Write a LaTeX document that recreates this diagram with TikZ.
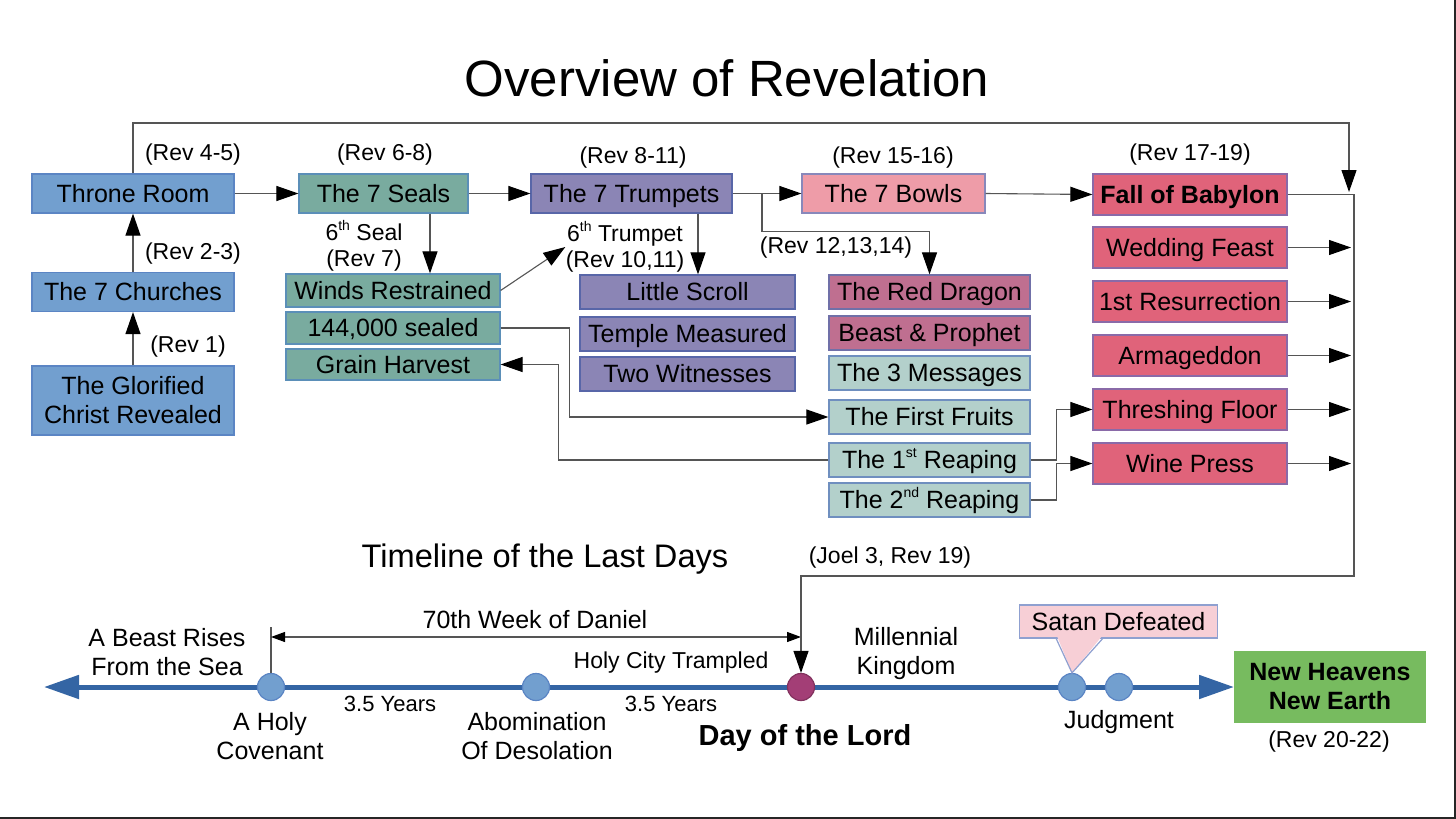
\documentclass[tikz,border=0pt]{standalone}
\usepackage{fontspec}
\setmainfont{Liberation Sans}
\usetikzlibrary{arrows.meta}
\definecolor{cBlue}{HTML}{729FCF}
\definecolor{bBlue}{HTML}{5B85C4}
\definecolor{cTeal}{HTML}{79AB9F}
\definecolor{bTeal}{HTML}{5B8FB8}
\definecolor{cPurp}{HTML}{8B85B5}
\definecolor{bPurp}{HTML}{5866A8}
\definecolor{cPink}{HTML}{EE9CA8}
\definecolor{bPink}{HTML}{8888BB}
\definecolor{cMauve}{HTML}{BF6F90}
\definecolor{bMauve}{HTML}{7070A8}
\definecolor{cLTeal}{HTML}{B3D0CB}
\definecolor{bLTeal}{HTML}{6F8FBF}
\definecolor{cRed}{HTML}{E0637A}
\definecolor{bRed}{HTML}{8A6AA8}
\definecolor{cSatan}{HTML}{F7CFD6}
\definecolor{bSatan}{HTML}{8FA0D0}
\definecolor{cGreen}{HTML}{77BB5F}
\definecolor{cAxis}{HTML}{3465A4}
\definecolor{cDot}{HTML}{A33E76}
\definecolor{cLine}{HTML}{555555}
\newcommand{\sups}[1]{\raisebox{0.45em}{\fontsize{7}{8}\selectfont #1}}
\tikzset{
  bx/.style={rectangle, inner sep=0pt, line width=0.6pt, align=center,
    font=\fontsize{12.5}{14.5}\selectfont},
  sl/.style={text height=9pt, text depth=0.4pt},
  bluebox/.style={bx, fill=cBlue, draw=bBlue, minimum width=101pt, minimum height=19.5pt},
  tealbox/.style={bx, sl, fill=cTeal, draw=bTeal, minimum width=107pt, minimum height=16.5pt},
  purpbox/.style={bx, sl, fill=cPurp, draw=bPurp, minimum width=107.5pt, minimum height=17pt},
  mauvebox/.style={bx, sl, fill=cMauve, draw=bMauve, minimum width=100.5pt, minimum height=17pt},
  ltealbox/.style={bx, sl, fill=cLTeal, draw=bLTeal, minimum width=100.5pt, minimum height=17pt},
  redbox/.style={bx, sl, fill=cRed, draw=bRed, minimum width=97pt, minimum height=20.5pt},
  lab/.style={inner sep=0pt, align=center, font=\fontsize{11.5}{13}\selectfont},
  tlab/.style={inner sep=0pt, align=center, font=\fontsize{12.5}{14.5}\selectfont},
  conn/.style={draw=cLine, line width=0.55pt},
  arr/.style={conn, -{Triangle[length=11pt,width=7.5pt,color=black]}},
  smallarr/.style={conn, {Triangle[length=7pt,width=5pt,color=black]}-{Triangle[length=7pt,width=5pt,color=black]}},
  axisline/.style={draw=cAxis, line width=2.5pt,
    {Triangle[length=17.5pt,width=11.5pt]}-{Triangle[length=17.5pt,width=11.5pt]}},
  dot/.style={circle, inner sep=0pt, minimum size=13.5pt, fill=cBlue, draw=bBlue, line width=0.6pt},
}
\begin{document}
\begin{tikzpicture}[x=0.5pt,y=-0.5pt]
\useasboundingbox (0,0) rectangle (1456,819);
\fill[white] (0,0) rectangle (1456,819);

% title
\node[inner sep=0pt, font=\fontsize{25.5}{30}\selectfont] (title) at (727,78) {Overview of Revelation};

% left column
\node[bluebox, sl] (throne) at (133,193.5) {Throne Room};
\node[bluebox, sl] (churches) at (133,292) {The 7 Churches};
\node[bluebox, minimum height=34.5pt] (christ) at (133,400.5) {The Glorified\\Christ Revealed};
\node[lab] (l45) at (193,155) {(Rev 4-5)};
\node[lab] (l23) at (193,254) {(Rev 2-3)};
\node[lab] (l1) at (188,347) {(Rev 1)};

% seals
\node[bx, sl, fill=cTeal, draw=bTeal, minimum width=84.5pt, minimum height=19.5pt] (seals) at (383.5,193.5) {The 7 Seals};
\node[lab] (l68) at (385,155) {(Rev 6-8)};
\node[lab] (s6) at (364,246) {6\sups{th} Seal\\(Rev 7)};
\node[tealbox] (winds) at (393,290.5) {Winds Restrained};
\node[tealbox, minimum height=16pt] (k144) at (393,328) {144,000 sealed};
\node[tealbox, minimum height=15.5pt] (grain) at (393,364.5) {Grain Harvest};

% trumpets
\node[bx, sl, fill=cPurp, draw=bPurp, minimum width=100.5pt, minimum height=19.5pt] (trumpets) at (631.5,193.5) {The 7 Trumpets};
\node[lab] (l811) at (633,158) {(Rev 8-11)};
\node[lab] (t6) at (625,247) {6\sups{th} Trumpet\\(Rev 10,11)};
\node[purpbox] (scroll) at (687.5,292) {Little Scroll};
\node[purpbox] (temple) at (687.5,334) {Temple Measured};
\node[purpbox] (witn) at (687.5,374) {Two Witnesses};

% bowls
\node[bx, sl, fill=cPink, draw=bPink, minimum width=91.5pt, minimum height=19.5pt] (bowls) at (893.5,193.5) {The 7 Bowls};
\node[lab] (l1516) at (893,158) {(Rev 15-16)};
\node[lab] (l121314) at (836,248) {(Rev 12,13,14)};
\node[mauvebox] (dragon) at (929.5,292) {The Red Dragon};
\node[mauvebox] (beast) at (929.5,333) {Beast \& Prophet};
\node[ltealbox] (msg) at (929.5,373) {The 3 Messages};
\node[ltealbox] (ff) at (929.5,417) {The First Fruits};
\node[ltealbox] (r1) at (929.5,460) {The 1\sups{st} Reaping};
\node[ltealbox] (r2) at (929.5,500) {The 2\sups{nd} Reaping};

% red column
\node[redbox, font=\fontsize{12.5}{14.5}\selectfont\bfseries] (babylon) at (1190,194.5) {Fall of Babylon};
\node[lab] (l1719) at (1190,155) {(Rev 17-19)};
\node[redbox] (wf) at (1190,247.5) {Wedding Feast};
\node[redbox] (res) at (1190,301.5) {1st Resurrection};
\node[redbox] (arm) at (1190,355.5) {Armageddon};
\node[redbox] (thr) at (1190,409.5) {Threshing Floor};
\node[redbox] (wine) at (1190,463.5) {Wine Press};

% helper coordinates
\coordinate (sx) at (430,0);
\coordinate (tx) at (698,0);
\coordinate (brx) at (762,0);
\coordinate (ex) at (1351,0);
\coordinate (topA) at (133,123);
\coordinate (topB) at (1349,123);
\coordinate (topEnd) at (1349,192);
\coordinate (rx) at (1354,576);

% connectors (top)
\draw[arr] (christ.north) -- (churches.south);
\draw[arr] (churches.north) -- (throne.south);
\draw[arr] (throne.east) -- (seals.west);
\draw[arr] (seals.east) -- (trumpets.west);
\draw[arr] (trumpets.east) -- (bowls.west);
\draw[arr] (bowls.east) -- (babylon.west);
\draw[arr] (throne.north) -- (topA) -- (topB) -- (topEnd);
\draw[arr] (seals.south -| sx) -- (winds.north -| sx);
\draw[arr] (winds.east) -- (t6.west);
\draw[arr] (trumpets.south -| tx) -- (scroll.north -| tx);
\draw[arr] (trumpets.east -| brx) -- ++(0,38) -| (dragon.north);
\draw[arr] (k144.east) -- ++(69,0) |- (ff.west);
\draw[arr] (r1.west) -- ++(-270,0) |- (grain.east);
\draw[arr] (r1.east) -- ++(26,0) |- (thr.west);
\draw[arr] (r2.east) -- ++(26,0) |- (wine.west);
\foreach \n in {wf,res,arm,thr,wine} \draw[arr] (\n.east) -- (\n.east -| ex);

% timeline
\node[inner sep=0pt, font=\fontsize{16.3}{19}\selectfont] (tltitle) at (545,559) {Timeline of the Last Days};
\node[lab] (joel) at (890,558) {(Joel 3, Rev 19)};
\coordinate (axL) at (44,687);
\coordinate (axR) at (1234,687);
\draw[axisline] (axL) -- (axR);

% Satan callout
\node[bx, sl, fill=cSatan, draw=bSatan, minimum width=99pt, minimum height=16.5pt] (satan) at (1118.5,621.5) {Satan Defeated};

\node[dot] (dA) at (271,687) {};
\node[dot] (dB) at (536,687) {};
\node[dot, fill=cDot, draw=cDot!80!black] (dD) at (801,687) {};
\node[dot] (dJ1) at (1072,687) {};
\node[dot] (dJ2) at (1119,687) {};

\fill[cSatan] (1057,636) -- (dJ1.north) -- (1102,636) -- cycle;
\draw[draw=bSatan, line width=0.6pt] (1056,638.2) -- (dJ1.north) -- (1103,638.2);

\coordinate (tickTop) at (271,627);
\coordinate (wL) at (271,637);
\coordinate (wR) at (801,637);
\draw[conn] (tickTop) -- (dA.north);
\draw[smallarr] (wL) -- (wR);
\draw[arr] (babylon.east) -| (rx) -| (dD.north);

\node[tlab] (week) at (535,620) {70th Week of Daniel};
\node[tlab] (beastrise) at (167,652) {A Beast Rises\\From the Sea};
\node[tlab] (cov) at (270,736) {A Holy\\Covenant};
\node[inner sep=0pt, font=\fontsize{11}{13}\selectfont] (y1) at (390,704) {3.5 Years};
\node[inner sep=0pt, font=\fontsize{11}{13}\selectfont] (y2) at (671,704) {3.5 Years};
\node[tlab] (abom) at (537,736) {Abomination\\Of Desolation};
\node[lab] (holy) at (671,663) {Holy City Trampled};
\node[inner sep=0pt, font=\fontsize{14.5}{17}\selectfont\bfseries] (dol) at (805,738) {Day of the Lord};
\node[tlab] (mill) at (906,654) {Millennial\\Kingdom};
\node[tlab] (judg) at (1119,722) {Judgment};
\node[bx, fill=cGreen, draw=cGreen, minimum width=95pt, minimum height=35pt,
  font=\fontsize{12.5}{14.5}\selectfont\bfseries] (newh) at (1330,687) {New Heavens\\New Earth};
\node[lab] (r2022) at (1329,742) {(Rev 20-22)};

% frame edges
\coordinate (fbl) at (0,818);
\coordinate (fbr) at (1455,818);
\coordinate (ftr) at (1455,0);
\draw[draw=black!85, line width=1pt] (fbl) -- (fbr) -- (ftr);
\end{tikzpicture}
\end{document}
